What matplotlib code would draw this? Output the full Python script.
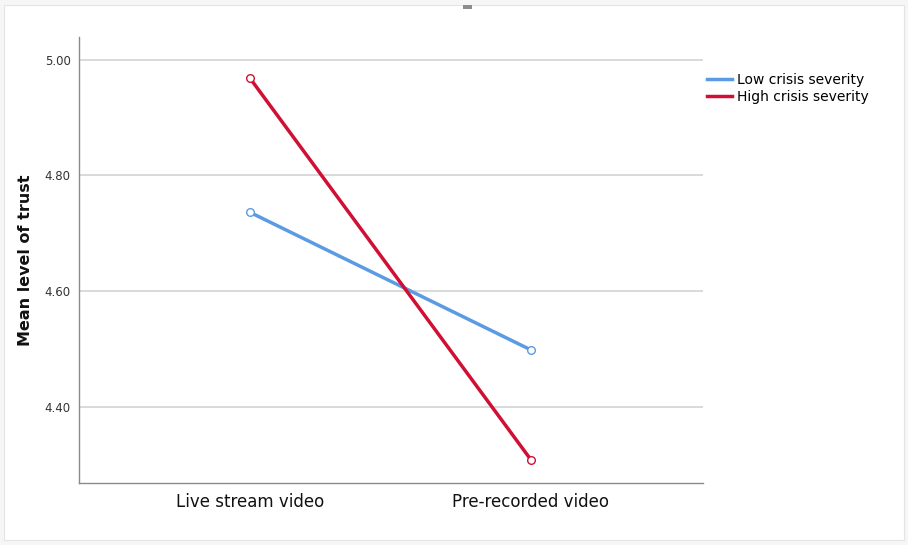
import matplotlib
matplotlib.use("Agg")
import matplotlib.pyplot as plt
from matplotlib.patches import Rectangle
from matplotlib.lines import Line2D

categories = ["Live stream video", "Pre-recorded video"]
low_severity = [4.736, 4.498]
high_severity = [4.968, 4.308]
series_names = ["Low crisis severity", "High crisis severity"]
y_ticks = [4.40, 4.60, 4.80, 5.00]

blue = "#5b9be3"
red = "#d10f35"

fig = plt.figure(figsize=(9.08, 5.45), dpi=100)
fig.patch.set_facecolor("#f6f6f6")
# white panel with thin grey frame
fig.add_artist(Rectangle((4 / 908, 5 / 545), 900 / 908, 535 / 545,
                         transform=fig.transFigure, facecolor="white",
                         edgecolor="#e4e4e4", linewidth=0.8, zorder=0))
# small grey handle at the top
fig.add_artist(Rectangle((463 / 908, 1 - 9 / 545), 9 / 908, 3.5 / 545,
                         transform=fig.transFigure, facecolor="#8c8c8c",
                         edgecolor="none", zorder=1))

ax = fig.add_axes([79 / 908, 1 - 483 / 545, 624 / 908, 446 / 545])
ax.set_facecolor("white")

x = list(range(len(categories)))
for vals, col in [(low_severity, blue), (high_severity, red)]:
    ax.plot(x, vals, color=col, linewidth=2.5, zorder=3)
    ax.plot(x, vals, linestyle="none", marker="o", markersize=5.5,
            markerfacecolor="white", markeredgecolor=col, markeredgewidth=1.0,
            zorder=4)

ax.set_xlim(-0.608, 1.612)
ax.set_ylim(4.268, 5.039)
ax.set_yticks(y_ticks)
ax.set_yticklabels([f"{v:.2f}" for v in y_ticks], fontsize=8.5, color="#333333")
ax.set_xticks(x)
ax.set_xticklabels(categories, fontsize=12, color="#111111")
ax.tick_params(axis="both", length=0)
ax.tick_params(axis="x", pad=7)
ax.tick_params(axis="y", pad=6)
ax.yaxis.grid(True, color="#cfcfcf", linewidth=1.1)
ax.set_axisbelow(True)
for s in ["top", "right"]:
    ax.spines[s].set_visible(False)
for s in ["left", "bottom"]:
    ax.spines[s].set_color("#8a8a8a")
    ax.spines[s].set_linewidth(1.0)

ax.set_ylabel("Mean level of trust", fontsize=11.5, fontweight="bold",
              color="#111111", labelpad=8)

handles = [Line2D([0], [0], color=blue, linewidth=2.5),
           Line2D([0], [0], color=red, linewidth=2.5)]
fig.legend(handles, series_names, loc="upper left",
           bbox_to_anchor=(701 / 908, 1 - 67 / 545), frameon=False,
           fontsize=10, handlelength=1.8, handletextpad=0.4,
           labelspacing=0.25, borderaxespad=0)

fig.savefig("out.png", dpi=100, facecolor=fig.get_facecolor())
